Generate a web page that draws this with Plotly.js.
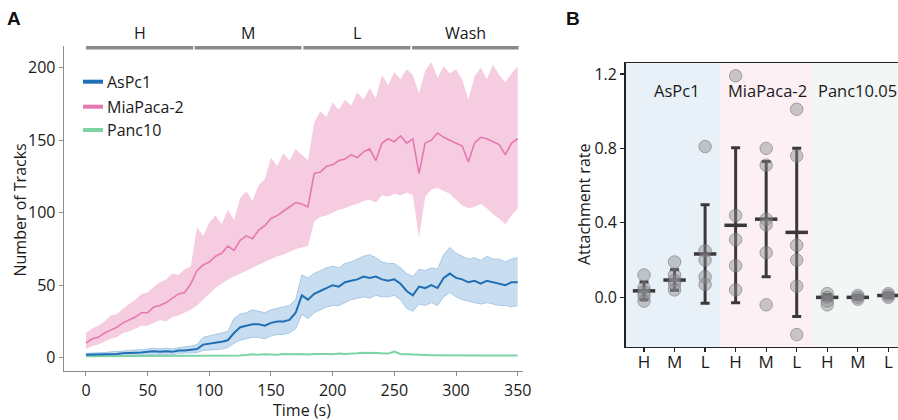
<!DOCTYPE html>
<html>
<head>
<meta charset="utf-8">
<script src="https://cdn.plot.ly/plotly-3.0.1.min.js"></script>
<style>html,body{margin:0;padding:0;background:#fff}#chart{width:898px;height:420px}</style>
</head>
<body>
<div id="chart"></div>
<script>
// ---------- Panel A data ----------
const time = [0,5,10,15,20,25,30,35,40,45,50,55,60,65,70,75,80,85,90,95,100,105,110,115,120,125,130,135,140,145,150,155,160,165,170,175,180,185,190,195,200,205,210,215,220,225,230,235,240,245,250,255,260,265,270,275,280,285,290,295,300,305,310,315,320,325,330,335,340,345,350];

const miaMean = [10,13,14,17,19,21,24,26,28,31,31,35,36,38,41,44,45,51,60,64,66,70,72,77,74,81,84,82,88,91,96,98,101,104,107,106,104,127,128,132,133,136,137,140,138,142,144,136,148,151,149,153,148,151,127,148,150,155,152,150,148,146,135,148,152,151,149,147,140,148,151];
const miaUpper = [17,20,22,25,29,30,34,37,40,44,45,49,52,54,58,57,61,63,90,84,93,98,92,102,95,110,115,108,119,123,138,132,141,136,144,140,136,162,170,166,176,171,178,174,183,178,186,179,195,188,197,192,199,195,182,198,204,193,201,196,199,192,178,194,200,192,202,195,190,196,201];
const miaLower = [6,8,9,11,13,14,17,18,20,22,22,24,26,25,28,29,31,33,36,40,44,48,51,54,56,58,60,62,64,66,68,70,71,73,75,76,77,94,97,98,100,102,103,105,106,108,109,107,112,111,113,112,114,112,83,111,116,117,115,113,109,105,103,104,106,103,99,96,92,98,103];

const asMean = [2,2,2,2,2.5,2.5,3,3,3.5,3.5,4,4.5,4,4.5,4,5,5,5.5,6,9,9.5,10,11,12,17,21,22,23,23,22,24,25,25,26,31,43,40,44,46,48,50,49,52,53,54,56,55,56,54,53,54,51,46,43,49,48,50,48,55,58,55,54,52,53,51,53,52,51,50,52,52];
const asUpper = [3,3,3,3.5,4,4,4.5,5,5,5.5,6,6.5,6,6.5,6,7,7.5,8,9,14,15,16,17,18,27,30,31,33,32,31,33,34,35,36,40,57,55,58,60,62,63,62,65,66,68,70,71,69,66,65,65,62,58,56,61,60,62,61,71,76,72,70,68,69,67,70,68,68,66,68,69];
const asLower = [1,1,1,1,1,1.5,1.5,1.5,2,2,2,2.5,2,2.5,2,3,3,3,3.5,5,5,5.5,6,7,10,12,13,14,14,13,15,16,16,17,20,30,27,31,33,35,36,36,38,40,41,42,41,43,42,42,43,40,34,32,37,36,38,36,42,45,42,40,39,38,37,38,37,36,36,35,36];

const panMean = [1,1,1,1,1,1.2,1,1,1.2,1,1,1.2,1,1,1.2,1,1,1,1,1.2,1,1.2,1,1.3,1.5,1.5,1.8,2.3,2,2.4,2.2,2,2.5,2.2,2.3,2.5,2.2,2.6,2.3,2.5,2.4,2.8,2.5,2.6,3,3.4,3.6,3.3,3,2.8,4.2,2.5,2.3,2,1.8,1.7,1.6,1.7,1.6,1.5,1.5,1.6,1.5,1.6,1.5,1.5,1.6,1.5,1.5,1.5,1.5];

const seriesNames = ['AsPc1','MiaPaca-2','Panc10'];
const phaseLabels = ['H','M','L','Wash'];
const phaseStart = [0,88.1,176.3,264.4];
const phaseEnd = [86.9,174.7,263,350.7];

// ---------- Panel B data ----------
const cellLines = ['AsPc1','MiaPaca-2','Panc10.05'];
const concLabels = ['H','M','L','H','M','L','H','M','L'];
const ptsAsH = [0.12,0.05,0.03,0.01,-0.02];
const ptsAsM = [0.19,0.12,0.09,0.07,0.04];
const ptsAsL = [0.81,0.25,0.20,0.11,0.07];
const ptsMiaH = [1.19,0.44,0.31,0.17,0.04];
const ptsMiaM = [0.80,0.71,0.42,0.39,0.24,-0.04];
const ptsMiaL = [1.01,0.76,0.28,0.20,0.06,-0.20];
const ptsPanH = [0.02,0.0,-0.02,-0.04];
const ptsPanM = [0.01,0.0,-0.01];
const ptsPanL = [0.02,0.01,0.0];
const meanB = [0.035,0.093,0.233,0.387,0.42,0.349,0.0,0.0,0.01];
const sdB = [0.048,0.055,0.265,0.416,0.31,0.452,0.015,0.01,0.012];

// ---------- build ----------
const FONT = 'Open Sans, Noto Sans, sans-serif';
const PINK = '#e677b1', PINKBAND = '#f6cce0';
const BLUE = '#1f6fb6', BLUEBAND = '#c8ddef', BLUEEDGE = '#a6c9e7';
const GREEN = '#7ed3a4';

const traces = [];
traces.push({x: time, y: miaLower, type:'scatter', mode:'lines', line:{width:0, color:PINKBAND}, hoverinfo:'skip', showlegend:false, xaxis:'x', yaxis:'y'});
traces.push({x: time, y: miaUpper, type:'scatter', mode:'lines', line:{width:0, color:PINKBAND}, fill:'tonexty', fillcolor:PINKBAND, hoverinfo:'skip', showlegend:false, xaxis:'x', yaxis:'y'});
traces.push({x: time, y: asLower, type:'scatter', mode:'lines', line:{width:1, color:BLUEEDGE}, hoverinfo:'skip', showlegend:false, xaxis:'x', yaxis:'y'});
traces.push({x: time, y: asUpper, type:'scatter', mode:'lines', line:{width:1, color:BLUEEDGE}, fill:'tonexty', fillcolor:BLUEBAND, hoverinfo:'skip', showlegend:false, xaxis:'x', yaxis:'y'});
traces.push({x: time, y: panMean, type:'scatter', mode:'lines', line:{width:2, color:GREEN}, name:seriesNames[2], showlegend:false, xaxis:'x', yaxis:'y'});
traces.push({x: time, y: miaMean, type:'scatter', mode:'lines', line:{width:1.6, color:PINK}, name:seriesNames[1], showlegend:false, xaxis:'x', yaxis:'y'});
traces.push({x: time, y: asMean, type:'scatter', mode:'lines', line:{width:2, color:BLUE}, name:seriesNames[0], showlegend:false, xaxis:'x', yaxis:'y'});

const groups = [ptsAsH,ptsAsM,ptsAsL,ptsMiaH,ptsMiaM,ptsMiaL,ptsPanH,ptsPanM,ptsPanL];
const px = [], py = [];
groups.forEach((g,i)=>g.forEach(v=>{px.push(i); py.push(v);}));
const catIdx = concLabels.map((_,i)=>i);
traces.push({x: catIdx, y: meanB, type:'scatter', mode:'markers',
  marker:{symbol:'line-ew', size:16, color:'#3b3839', line:{width:3.5, color:'#3b3839'}},
  error_y:{type:'data', array:sdB, visible:true, color:'#3b3839', thickness:3, width:4.5},
  showlegend:false, xaxis:'x2', yaxis:'y2', cliponaxis:false});
traces.push({x: px, y: py, type:'scatter', mode:'markers',
  marker:{size:12.5, color:'rgba(140,140,145,0.45)', line:{width:1, color:'rgba(110,110,115,0.55)'}},
  showlegend:false, xaxis:'x2', yaxis:'y2', cliponaxis:false});

const W = 898, H = 420;
const PXx = v => v/W, PXy = v => (H - v)/H;

const shapes = [];
phaseLabels.forEach((p,i)=>{
  shapes.push({type:'line', xref:'x', yref:'paper', x0:phaseStart[i], x1:phaseEnd[i], y0:PXy(47.7), y1:PXy(47.7), line:{color:'#8a8a8a', width:3.6}});
});
const legendColors = [BLUE, PINK, GREEN];
const legendY = [81.7, 106.7, 130];
legendColors.forEach((c,i)=>{
  shapes.push({type:'line', xref:'paper', yref:'paper', x0:PXx(83), x1:PXx(103), y0:PXy(legendY[i]), y1:PXy(legendY[i]), line:{color:c, width:4}});
});
const bgCols = ['#e8f0f8','#fcf0f4','#f2f6f5'];
const bgX = [[-0.6,2.5],[2.5,5.5],[5.5,8.6]];
bgCols.forEach((c,i)=>{
  shapes.push({type:'rect', xref:'x2', yref:'y2 domain', x0:bgX[i][0], x1:bgX[i][1], y0:0, y1:1, fillcolor:c, line:{width:0}, layer:'below'});
});

const txt = (size) => ({family:FONT, size:size, color:'#1a1a1a'});
const annotations = [];
phaseLabels.forEach((p,i)=>{
  annotations.push({text:p, xref:'x', yref:'paper', x:(phaseStart[i]+phaseEnd[i])/2, y:PXy(33), showarrow:false, xanchor:'center', yanchor:'middle', font:txt(16)});
});
seriesNames.forEach((s,i)=>{
  annotations.push({text:s, xref:'paper', yref:'paper', x:PXx(105), y:PXy(legendY[i]), showarrow:false, xanchor:'left', yanchor:'middle', font:txt(16)});
});
annotations.push({text:'<b>A</b>', xref:'paper', yref:'paper', x:PXx(14), y:PXy(18.5), showarrow:false, xanchor:'center', yanchor:'middle', font:{family:'Liberation Sans, Arial, sans-serif', size:19, color:'#111'}});
annotations.push({text:'<b>B</b>', xref:'paper', yref:'paper', x:PXx(573), y:PXy(18.5), showarrow:false, xanchor:'center', yanchor:'middle', font:{family:'Liberation Sans, Arial, sans-serif', size:19, color:'#111'}});
annotations.push({text:'Number of Tracks', xref:'paper', yref:'paper', x:PXx(19.5), y:PXy(210), textangle:-90, showarrow:false, xanchor:'center', yanchor:'middle', font:txt(16)});
annotations.push({text:'Time (s)', xref:'x', yref:'paper', x:175, y:PXy(409.5), showarrow:false, xanchor:'center', yanchor:'middle', font:txt(16)});
annotations.push({text:'Attachment rate', xref:'paper', yref:'paper', x:PXx(584), y:PXy(205), textangle:-90, showarrow:false, xanchor:'center', yanchor:'middle', font:txt(16)});
annotations.push({text:cellLines[0], xref:'paper', yref:'paper', x:PXx(677), y:PXy(90), showarrow:false, xanchor:'center', yanchor:'middle', font:txt(16.5)});
annotations.push({text:cellLines[1], xref:'paper', yref:'paper', x:PXx(767), y:PXy(90), showarrow:false, xanchor:'center', yanchor:'middle', font:txt(16.5)});
annotations.push({text:cellLines[2], xref:'paper', yref:'paper', x:PXx(816), y:PXy(90), showarrow:false, xanchor:'left', yanchor:'middle', font:txt(16.5)});

const layout = {
  width: W, height: H,
  margin:{l:0,r:0,t:0,b:0},
  paper_bgcolor:'#ffffff', plot_bgcolor:'rgba(0,0,0,0)',
  showlegend:false,
  font:{family:FONT, size:16, color:'#1a1a1a'},
  xaxis:{domain:[PXx(64), PXx(523)], range:[-17.8, 354.3], tickvals:[0,50,100,150,200,250,300,350],
    showgrid:false, zeroline:false, showline:true, linecolor:'#8c8c8c', linewidth:1.3,
    ticks:'outside', ticklen:4, tickcolor:'#8c8c8c', tickwidth:1, tickfont:txt(16), anchor:'y'},
  yaxis:{domain:[PXy(371), PXy(45.7)], range:[-9.2, 215.2], tickvals:[0,50,100,150,200],
    showgrid:false, zeroline:false, showline:true, linecolor:'#8c8c8c', linewidth:1.3,
    ticks:'outside', ticklen:4, tickcolor:'#8c8c8c', tickwidth:1, tickfont:txt(16), anchor:'x'},
  xaxis2:{domain:[PXx(625.7), 1], range:[-0.6, 8.317], tickvals:catIdx, ticktext:concLabels,
    showgrid:false, zeroline:false, showline:true, mirror:true, linecolor:'#222', linewidth:1.6,
    ticks:'outside', ticklen:4, tickcolor:'#222', tickwidth:1.2, tickfont:txt(17), ticklabelstandoff:-5, anchor:'y2'},
  yaxis2:{domain:[PXy(346.7), PXy(63.3)], range:[-0.265, 1.257], tickvals:[0,0.4,0.8,1.2], tickformat:'.1f',
    showgrid:false, zeroline:false, showline:true, linecolor:'#222', linewidth:1.6,
    ticks:'outside', ticklen:4, tickcolor:'#222', tickwidth:1.2, tickfont:txt(16), anchor:'x2'},
  shapes: shapes,
  annotations: annotations
};

Plotly.newPlot('chart', traces, layout, {staticPlot:true, displayModeBar:false});
</script>
</body>
</html>
